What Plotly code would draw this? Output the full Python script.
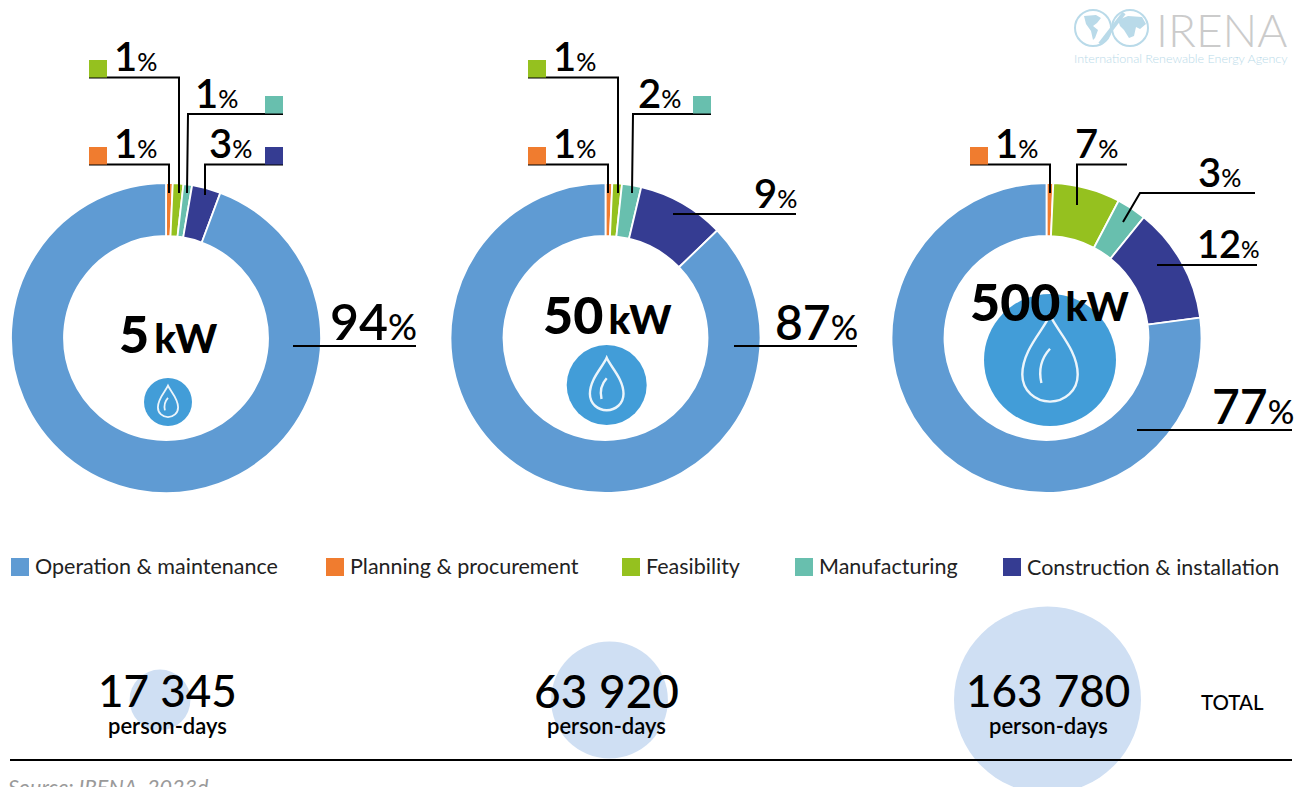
import numpy as np
import plotly.graph_objects as go

W, H = 1309, 787
FONT = "Lato"
INK = "#000000"

# ---------- data ----------
categories = ["Planning & procurement", "Feasibility", "Manufacturing",
              "Construction & installation", "Operation & maintenance"]
colors = ["#f07c2f", "#95c11f", "#68bfae", "#353c92", "#5f9bd3"]
share_5kw = [0.7, 1.1, 0.9, 3.0, 94.3]
share_50kw = [0.7, 1.0, 2.0, 9.1, 87.2]
share_500kw = [0.7, 7.0, 3.1, 12.1, 77.1]
plants = ["5 kW", "50 kW", "500 kW"]
totals = [17345, 63920, 163780]
total_labels = ["17 345", "63 920", "163 780"]
drop_sizes = [48, 80, 132]
legend_order = ["Operation & maintenance", "Planning & procurement", "Feasibility",
                "Manufacturing", "Construction & installation"]

# ---------- layout helpers ----------
pie_cx = [166, 605.5, 1046.5]
pie_cy = 338
pie_r = 155
inner_r = 102
bubble_x = [160, 609.5, 1047.5]
bubble_y = 700
bubble_k = 0.462
drop_x = [168, 606.7, 1050]
drop_y = [402, 385, 360]


def rich(num, pct, a, b):
    return (f"<span style='font-size:{a}px;font-weight:600'>{num}</span>"
            f"<span style='font-size:{b}px;font-weight:500'>{pct}</span>")


fig = go.Figure()

# total bubbles, area proportional to total person-days
fig.add_trace(go.Scatter(
    x=bubble_x, y=[bubble_y] * 3, mode="markers", showlegend=False, cliponaxis=False,
    marker=dict(size=[np.sqrt(t) * bubble_k for t in totals], color="#cfdff3", opacity=1, line=dict(width=0)),
    hoverinfo="skip"))
# droplet discs
fig.add_trace(go.Scatter(
    x=drop_x, y=drop_y, mode="markers", showlegend=False,
    marker=dict(size=drop_sizes, color="#429dd8", opacity=1, line=dict(width=0)), hoverinfo="skip"))

# donuts
for cx, vals, name in zip(pie_cx, [share_5kw, share_50kw, share_500kw], plants):
    fig.add_trace(go.Pie(
        labels=categories, values=vals, name=name, sort=False, direction="clockwise",
        rotation=0, hole=inner_r / pie_r, textinfo="none", showlegend=False,
        marker=dict(colors=colors, line=dict(color="#ffffff", width=1.8)),
        domain=dict(x=[(cx - pie_r) / W, (cx + pie_r) / W],
                    y=[1 - (pie_cy + pie_r) / H, 1 - (pie_cy - pie_r) / H])))

shapes = []


def line(points, width=2, color=INK):
    d = "M " + " L ".join(f"{x},{y}" for x, y in points)
    shapes.append(dict(type="path", path=d, line=dict(color=color, width=width), layer="above"))


leaders = [
    [(89, 164.5), (169, 164.5), (169, 193)],
    [(89, 77.5), (179, 77.5), (179, 193)],
    [(283, 114), (188, 114), (187, 193)],
    [(283, 164.5), (205, 164.5), (205, 195)],
    [(416, 346), (293, 346)],
    [(528, 164.5), (608, 164.5), (608, 193)],
    [(528, 77.5), (618, 77.5), (618, 193)],
    [(711, 114), (633, 114), (632, 193)],
    [(796, 214), (673, 214)],
    [(857, 346), (734, 346)],
    [(970, 164.5), (1050, 164.5), (1050, 193)],
    [(1127, 164.5), (1077, 164.5), (1077, 205)],
    [(1255, 193), (1140, 193), (1123, 222)],
    [(1257, 265), (1157, 265)],
    [(1292, 430), (1137, 430)],
]
for pts in leaders:
    line(pts)
line([(10, 760), (1292, 760)])

# small colour keys by the leaders and legend keys
key_squares = [(89, 147, 0), (89, 60, 1), (265, 96, 2), (265, 147, 3),
               (528, 147, 0), (528, 60, 1), (693, 96, 2), (970, 147, 0)]
for x, y, c in key_squares:
    shapes.append(dict(type="rect", x0=x, x1=x + 18, y0=y, y1=y + 17.5,
                       fillcolor=colors[c], line=dict(width=0), layer="above"))

legend_x = [11, 326, 622, 795, 1003]
legend_y = [566, 566, 566, 566, 567]
for x, y, name in zip(legend_x, legend_y, legend_order):
    c = colors[categories.index(name)]
    shapes.append(dict(type="rect", x0=x, x1=x + 18, y0=558, y1=576,
                       fillcolor=c, line=dict(width=0), layer="above"))

# droplet glyphs
for x, y, s in zip(drop_x, drop_y, drop_sizes):
    r = s / 2
    P = lambda a, b: f"{x + a * r:.1f},{y + b * r:.1f}"
    outline = (f"M {P(0, -.68)} C {P(.1, -.45)} {P(.42, -.15)} {P(.42, .22)} "
               f"C {P(.42, .47)} {P(.22, .63)} {P(0, .63)} "
               f"C {P(-.22, .63)} {P(-.42, .47)} {P(-.42, .22)} "
               f"C {P(-.42, -.15)} {P(-.1, -.45)} {P(0, -.68)} Z")
    inner = f"M {P(0, -.17)} Q {P(-.2, .05)} {P(-.13, .35)}"
    w = 1.8 if s < 60 else 2.4
    shapes.append(dict(type="path", path=outline, line=dict(color="#ecf5fb", width=w), layer="above"))
    shapes.append(dict(type="path", path=inner, line=dict(color="#ecf5fb", width=w), layer="above"))

# logo
for cx in (1093, 1130):
    shapes.append(dict(type="circle", x0=cx - 18, x1=cx + 18, y0=10, y1=46,
                       line=dict(color="#b9dae9", width=2), layer="above"))
line([(1100, 44), (1124, 13)], width=4, color="#b9dae9")
logo_land = ["M 1084,16 L 1096,15 L 1101,18 L 1097,23 L 1093,26 L 1098,30 L 1095,38 L 1093,40 L 1091,31 L 1086,24 Z",
             "M 1118,20 L 1128,16 L 1142,17 L 1146,24 L 1140,29 L 1136,27 L 1134,36 L 1129,38 L 1124,30 L 1120,26 Z"]
for d in logo_land:
    shapes.append(dict(type="path", path=d, fillcolor="#b9dae9", line=dict(width=0), layer="above"))

# ---------- text ----------
ann = []


def text(x, y, s, size=20, color=INK, anchor="left", vanchor="middle", weight="normal"):
    ann.append(dict(x=x, y=y, xref="x", yref="y", text=s, showarrow=False, xanchor=anchor,
                    yanchor=vanchor, align=anchor,
                    font=dict(family=FONT, size=size, color=color, weight=weight),
                    borderpad=0, borderwidth=0))


small = (40, 25)
value_labels = [
    (114, 56, "1", small), (114, 143, "1", small), (195, 93, "1", small), (209, 143, "3", small),
    (330, 321, "94", (50, 36)),
    (553, 56, "1", small), (553, 143, "1", small), (638, 93, "2", small), (754, 193, "9", small),
    (775, 321, "87", (48, 34)),
    (995, 143, "1", small), (1075, 143, "7", small), (1198, 172, "3", small), (1197, 243, "12", (38, 23)),
    (1212, 405, "77", (48, 33)),
]
for x, y, n, (a, b) in value_labels:
    text(x, y, rich(n, "%", a, b))

plant_y = [333, 314, 301]
plant_dx = [2, 2, 3]
for cx, y, dx, p in zip(pie_cx, plant_y, plant_dx, plants):
    num, unit = p.split()
    text(cx + dx, y,
         f"<span style='font-size:52px;font-weight:900'>{num}</span> "
         f"<span style='font-size:40px;font-weight:900'>{unit}</span>",
         anchor="center")

for x, y, name in zip(legend_x, legend_y, legend_order):
    text(x + 24, y, name, size=21.5, color="#222222")

total_x = [167, 606.5, 1048]
total_sizes = [44, 46, 44]
for x, s, lab in zip(total_x, total_sizes, total_labels):
    text(x, 690, lab, size=s, anchor="center", weight=500)
    text(x, 725.5, "person-days", size=22, anchor="center", weight=600)
text(1201, 702, "TOTAL", size=20.5, weight=500)
text(8, 774, "<i>Source: IRENA, 2023d</i>", size=21.5, color="#9a9a9a", vanchor="top")

text(1156, 29, "IRENA", size=46, color="#cbcbcb", weight=300)
text(1074, 58, "International Renewable Energy Agency", size=12.5, color="#b9dae9", weight=300)

fig.update_layout(
    width=W, height=H, autosize=False, margin=dict(l=0, r=0, t=0, b=0),
    paper_bgcolor="#ffffff", plot_bgcolor="rgba(0,0,0,0)", showlegend=False,
    xaxis=dict(range=[0, W], visible=False, fixedrange=True),
    yaxis=dict(range=[H, 0], visible=False, fixedrange=True),
    shapes=shapes, annotations=ann)

fig.write_html("out.html", config=dict(displayModeBar=False),
               post_script="document.body.style.margin='0';document.body.style.overflow='hidden';")
